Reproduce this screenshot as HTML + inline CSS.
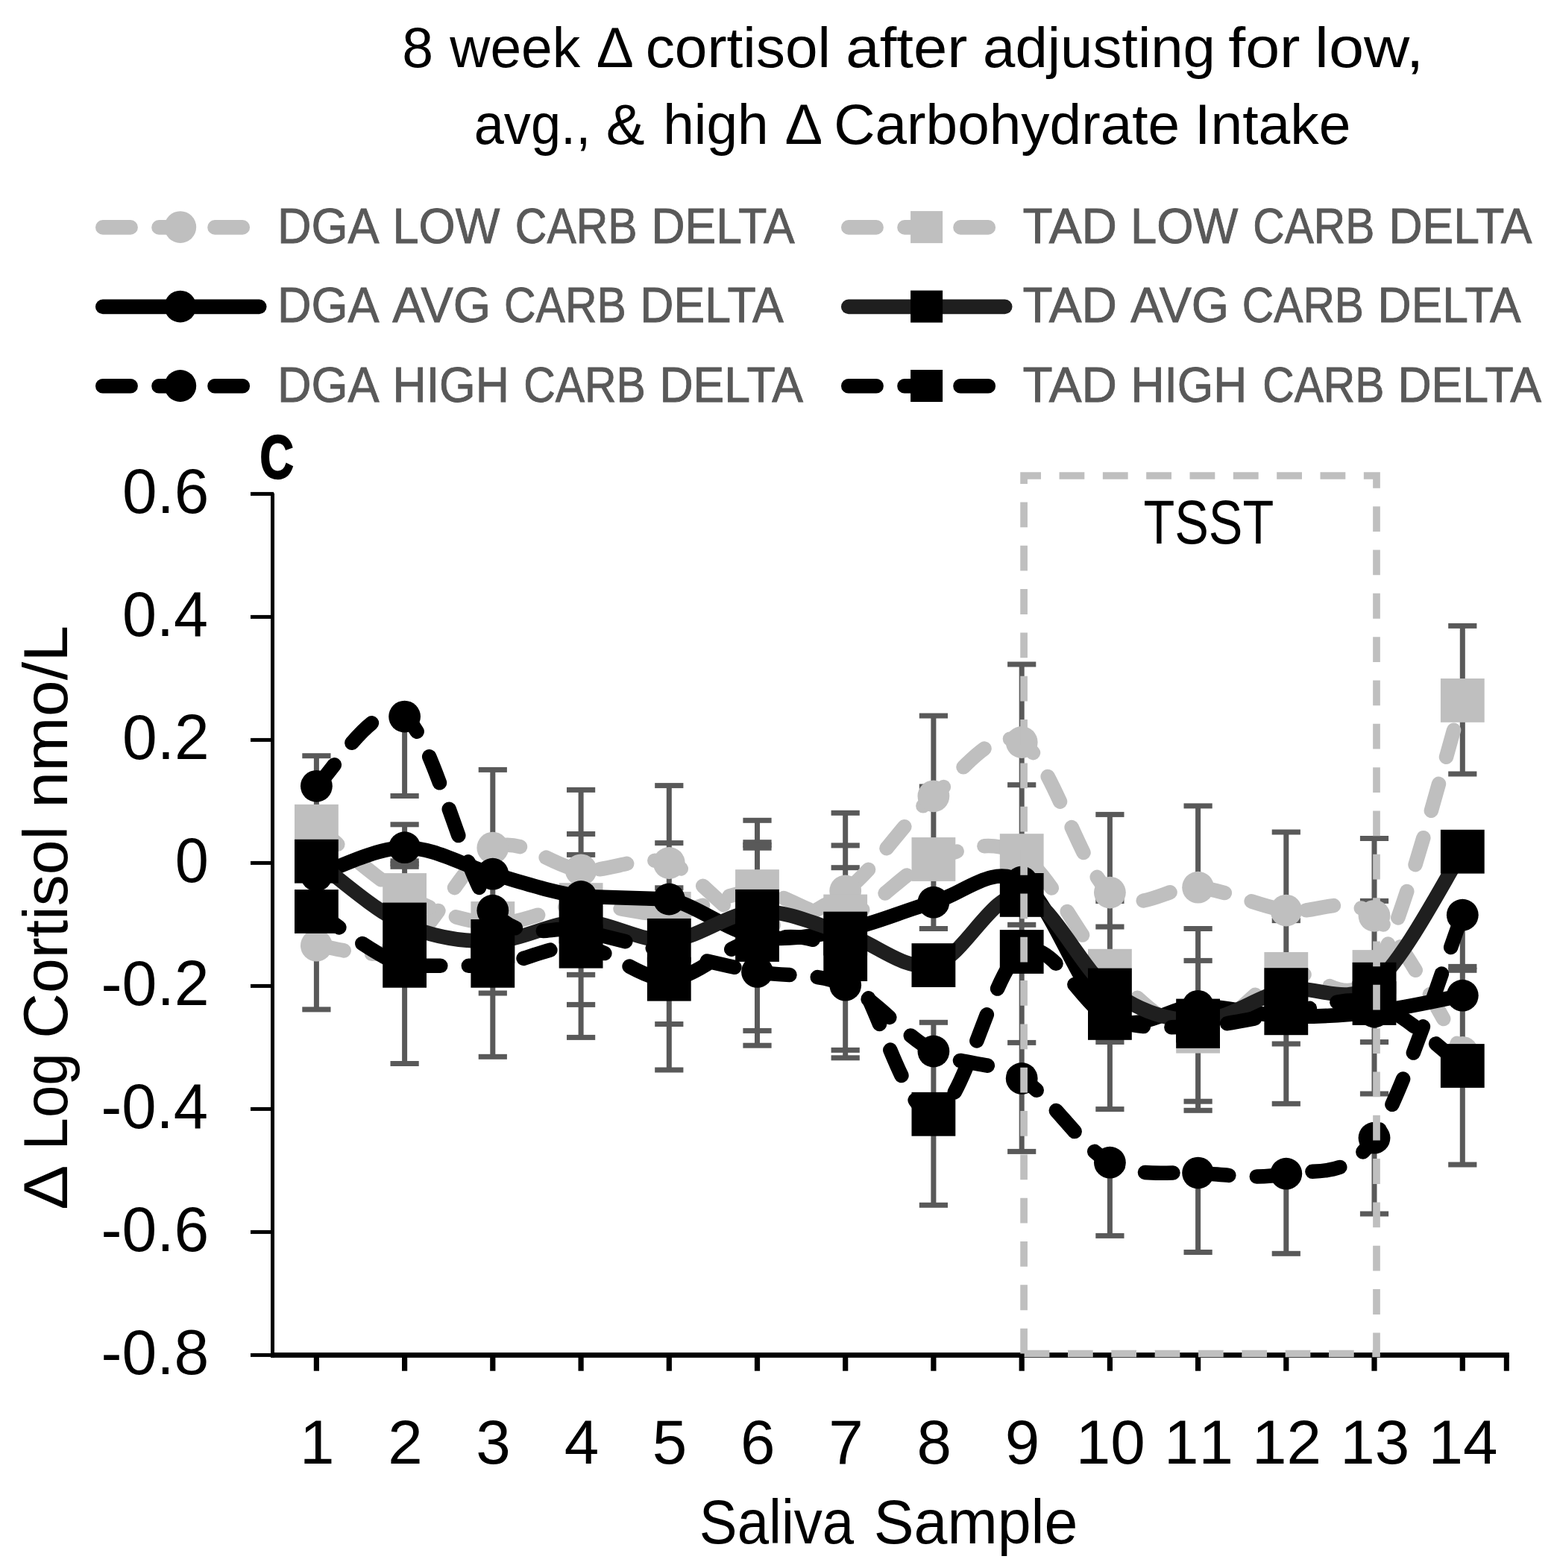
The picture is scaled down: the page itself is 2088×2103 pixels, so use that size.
<!DOCTYPE html>
<html lang="en"><head><meta charset="utf-8"><title>8 week Δ cortisol after adjusting for low, avg., &amp; high Δ Carbohydrate Intake</title>
<style>html,body{margin:0;padding:0;background:#fff}svg{display:block}text{font-family:"Liberation Sans",sans-serif}</style></head><body>
<svg width="2088" height="2103" viewBox="0 0 2088 2103">
<rect width="2088" height="2103" fill="#fff"/>
<g fill="#000">
<rect x="363" y="661.5" width="5" height="1159.4"/>
<rect x="364.5" y="1814" width="1659.3" height="6.9"/>
<rect x="336" y="659.9" width="31" height="5"/>
<rect x="336" y="824.9" width="31" height="5"/>
<rect x="336" y="989.9" width="31" height="5"/>
<rect x="336" y="1154.9" width="31" height="5"/>
<rect x="336" y="1319.9" width="31" height="5"/>
<rect x="336" y="1484.9" width="31" height="5"/>
<rect x="336" y="1649.9" width="31" height="5"/>
<rect x="336" y="1814.9" width="31" height="5"/>
<rect x="420.8" y="1817" width="7.2" height="21.7"/>
<rect x="539" y="1817" width="7.2" height="21.7"/>
<rect x="657.2" y="1817" width="7.2" height="21.7"/>
<rect x="775.5" y="1817" width="7.2" height="21.7"/>
<rect x="893.7" y="1817" width="7.2" height="21.7"/>
<rect x="1011.9" y="1817" width="7.2" height="21.7"/>
<rect x="1130.1" y="1817" width="7.2" height="21.7"/>
<rect x="1248.3" y="1817" width="7.2" height="21.7"/>
<rect x="1366.6" y="1817" width="7.2" height="21.7"/>
<rect x="1484.8" y="1817" width="7.2" height="21.7"/>
<rect x="1603" y="1817" width="7.2" height="21.7"/>
<rect x="1721.2" y="1817" width="7.2" height="21.7"/>
<rect x="1839.4" y="1817" width="7.2" height="21.7"/>
<rect x="1957.7" y="1817" width="7.2" height="21.7"/>
<rect x="2016.8" y="1817" width="7" height="21.7"/>
</g>
<g fill="#595959">
<rect x="420.9" y="1013.7" width="7" height="340.2"/>
<rect x="405.3" y="1010.2" width="38.2" height="7"/>
<rect x="405.3" y="1350.4" width="38.2" height="7"/>
<rect x="539.1" y="961" width="7" height="106.5"/>
<rect x="539.1" y="1105.8" width="7" height="320.7"/>
<rect x="523.5" y="1064" width="38.2" height="7"/>
<rect x="523.5" y="1102.3" width="38.2" height="7"/>
<rect x="523.5" y="1151.3" width="38.2" height="7"/>
<rect x="523.5" y="1155" width="38.2" height="7"/>
<rect x="523.5" y="1158.8" width="38.2" height="7"/>
<rect x="523.5" y="1423" width="38.2" height="7"/>
<rect x="657.3" y="1032.4" width="7" height="384.9"/>
<rect x="641.7" y="1028.9" width="38.2" height="7"/>
<rect x="641.7" y="1328.5" width="38.2" height="7"/>
<rect x="641.7" y="1413.8" width="38.2" height="7"/>
<rect x="775.6" y="1059.4" width="7" height="332"/>
<rect x="760" y="1055.9" width="38.2" height="7"/>
<rect x="760" y="1115" width="38.2" height="7"/>
<rect x="760" y="1142.9" width="38.2" height="7"/>
<rect x="760" y="1303.8" width="38.2" height="7"/>
<rect x="760" y="1343.9" width="38.2" height="7"/>
<rect x="760" y="1387.9" width="38.2" height="7"/>
<rect x="893.8" y="1053.6" width="7" height="381.4"/>
<rect x="878.2" y="1050.1" width="38.2" height="7"/>
<rect x="878.2" y="1127.1" width="38.2" height="7"/>
<rect x="878.2" y="1187.3" width="38.2" height="7"/>
<rect x="878.2" y="1370" width="38.2" height="7"/>
<rect x="878.2" y="1431.5" width="38.2" height="7"/>
<rect x="1012" y="1100.3" width="7" height="301.9"/>
<rect x="996.4" y="1096.8" width="38.2" height="7"/>
<rect x="996.4" y="1126.2" width="38.2" height="7"/>
<rect x="996.4" y="1129.9" width="38.2" height="7"/>
<rect x="996.4" y="1133.7" width="38.2" height="7"/>
<rect x="996.4" y="1378.9" width="38.2" height="7"/>
<rect x="996.4" y="1398.7" width="38.2" height="7"/>
<rect x="1130.2" y="1090.3" width="7" height="328.5"/>
<rect x="1114.6" y="1086.8" width="38.2" height="7"/>
<rect x="1114.6" y="1130.4" width="38.2" height="7"/>
<rect x="1114.6" y="1160.2" width="38.2" height="7"/>
<rect x="1114.6" y="1404.9" width="38.2" height="7"/>
<rect x="1114.6" y="1415.3" width="38.2" height="7"/>
<rect x="1248.4" y="960" width="7" height="285.5"/>
<rect x="1248.4" y="1371.3" width="7" height="245"/>
<rect x="1232.8" y="956.5" width="38.2" height="7"/>
<rect x="1232.8" y="1051.5" width="38.2" height="7"/>
<rect x="1232.8" y="1242" width="38.2" height="7"/>
<rect x="1232.8" y="1367.8" width="38.2" height="7"/>
<rect x="1232.8" y="1612.8" width="38.2" height="7"/>
<rect x="1366.7" y="891" width="7" height="653.4"/>
<rect x="1351.1" y="887.5" width="38.2" height="7"/>
<rect x="1351.1" y="1049.2" width="38.2" height="7"/>
<rect x="1351.1" y="1236.8" width="38.2" height="7"/>
<rect x="1351.1" y="1394.9" width="38.2" height="7"/>
<rect x="1351.1" y="1540.9" width="38.2" height="7"/>
<rect x="1484.9" y="1092.4" width="7" height="395.2"/>
<rect x="1484.9" y="1559.2" width="7" height="98.2"/>
<rect x="1469.3" y="1088.9" width="38.2" height="7"/>
<rect x="1469.3" y="1205" width="38.2" height="7"/>
<rect x="1469.3" y="1239.5" width="38.2" height="7"/>
<rect x="1469.3" y="1394" width="38.2" height="7"/>
<rect x="1469.3" y="1484.1" width="38.2" height="7"/>
<rect x="1469.3" y="1653.9" width="38.2" height="7"/>
<rect x="1603.1" y="1080.9" width="7" height="109.1"/>
<rect x="1603.1" y="1245.5" width="7" height="243.8"/>
<rect x="1603.1" y="1573" width="7" height="106.5"/>
<rect x="1587.5" y="1077.4" width="38.2" height="7"/>
<rect x="1587.5" y="1242" width="38.2" height="7"/>
<rect x="1587.5" y="1284.9" width="38.2" height="7"/>
<rect x="1587.5" y="1473.7" width="38.2" height="7"/>
<rect x="1587.5" y="1485.8" width="38.2" height="7"/>
<rect x="1587.5" y="1676" width="38.2" height="7"/>
<rect x="1721.3" y="1116" width="7" height="364.3"/>
<rect x="1721.3" y="1574" width="7" height="107.3"/>
<rect x="1705.7" y="1112.5" width="38.2" height="7"/>
<rect x="1705.7" y="1231.1" width="38.2" height="7"/>
<rect x="1705.7" y="1396.5" width="38.2" height="7"/>
<rect x="1705.7" y="1476.8" width="38.2" height="7"/>
<rect x="1705.7" y="1677.8" width="38.2" height="7"/>
<rect x="1839.5" y="1124.5" width="7" height="342.5"/>
<rect x="1839.5" y="1526" width="7" height="102"/>
<rect x="1823.9" y="1121" width="38.2" height="7"/>
<rect x="1823.9" y="1204.9" width="38.2" height="7"/>
<rect x="1823.9" y="1394.1" width="38.2" height="7"/>
<rect x="1823.9" y="1463.5" width="38.2" height="7"/>
<rect x="1823.9" y="1624.5" width="38.2" height="7"/>
<rect x="1957.8" y="839.4" width="7" height="198.6"/>
<rect x="1957.8" y="1227" width="7" height="335"/>
<rect x="1942.2" y="835.9" width="38.2" height="7"/>
<rect x="1942.2" y="1034.5" width="38.2" height="7"/>
<rect x="1942.2" y="1292.9" width="38.2" height="7"/>
<rect x="1942.2" y="1297.8" width="38.2" height="7"/>
<rect x="1942.2" y="1558.5" width="38.2" height="7"/>
</g>
<g id="DGA_LOW"><path d="M424.4,1268.2C444.1,1268.5 503.2,1291.8 542.6,1270C582,1248.2 621.4,1154.3 660.8,1137.1C700.2,1119.9 739.7,1163.4 779.1,1166.8C818.5,1170.2 857.9,1145.3 897.3,1157.5C936.7,1169.7 976.1,1233.8 1015.5,1240C1054.9,1246.2 1094.3,1223.7 1133.7,1195C1173.1,1166.3 1212.5,1101 1251.9,1067.8C1291.3,1034.5 1330.8,974 1370.2,995.5C1409.6,1017 1449,1164.6 1488.4,1197.1C1527.8,1229.5 1567.2,1186.2 1606.6,1190.2C1646,1194.2 1685.4,1214.8 1724.8,1221.1C1764.2,1227.4 1803.6,1196.6 1843,1228.3C1882.4,1260 1941.6,1380.8 1961.3,1411.3" fill="none" stroke="#BFBFBF" stroke-width="19.5" stroke-linecap="round" stroke-linejoin="round" stroke-dasharray="37.5 37.5"/>
<g fill="#BFBFBF">
<circle cx="424.4" cy="1268.2" r="21.4"/>
<circle cx="542.6" cy="1270" r="21.4"/>
<circle cx="660.8" cy="1137.1" r="21.4"/>
<circle cx="779.1" cy="1166.8" r="21.4"/>
<circle cx="897.3" cy="1157.5" r="21.4"/>
<circle cx="1015.5" cy="1240" r="21.4"/>
<circle cx="1133.7" cy="1195" r="21.4"/>
<circle cx="1251.9" cy="1067.8" r="21.4"/>
<circle cx="1370.2" cy="995.5" r="21.4"/>
<circle cx="1488.4" cy="1197.1" r="21.4"/>
<circle cx="1606.6" cy="1190.2" r="21.4"/>
<circle cx="1724.8" cy="1221.1" r="21.4"/>
<circle cx="1843" cy="1228.3" r="21.4"/>
<circle cx="1961.3" cy="1411.3" r="21.4"/>
</g></g>
<g id="TAD_LOW"><path d="M424.4,1108.3C444.1,1123.7 503.2,1178.8 542.6,1200.5C582,1222.2 621.4,1236.3 660.8,1238.5C700.2,1240.7 739.7,1215.8 779.1,1213.6C818.5,1211.4 857.9,1228.4 897.3,1225.4C936.7,1222.4 976.1,1195 1015.5,1195.6C1054.9,1196.2 1094.3,1236.2 1133.7,1229C1173.1,1221.8 1212.5,1166.1 1251.9,1152.5C1291.3,1138.9 1330.8,1122.6 1370.2,1147.6C1409.6,1172.5 1449,1262.9 1488.4,1302.2C1527.8,1341.5 1567.2,1382.5 1606.6,1383.2C1646,1383.9 1685.4,1319.7 1724.8,1306.4C1764.2,1293.1 1803.6,1364.7 1843,1303.5C1882.4,1242.3 1941.6,1000.1 1961.3,939.4" fill="none" stroke="#BFBFBF" stroke-width="19.5" stroke-linecap="round" stroke-linejoin="round" stroke-dasharray="37.5 37.5"/>
<g fill="#BFBFBF">
<rect x="395" y="1078.9" width="58.8" height="58.8"/>
<rect x="513.2" y="1171.1" width="58.8" height="58.8"/>
<rect x="631.4" y="1209.1" width="58.8" height="58.8"/>
<rect x="749.7" y="1184.2" width="58.8" height="58.8"/>
<rect x="867.9" y="1196" width="58.8" height="58.8"/>
<rect x="986.1" y="1166.2" width="58.8" height="58.8"/>
<rect x="1104.3" y="1199.6" width="58.8" height="58.8"/>
<rect x="1222.5" y="1123.1" width="58.8" height="58.8"/>
<rect x="1340.8" y="1118.2" width="58.8" height="58.8"/>
<rect x="1459" y="1272.8" width="58.8" height="58.8"/>
<rect x="1577.2" y="1353.8" width="58.8" height="58.8"/>
<rect x="1695.4" y="1277" width="58.8" height="58.8"/>
<rect x="1813.6" y="1274.1" width="58.8" height="58.8"/>
<rect x="1931.9" y="910" width="58.8" height="58.8"/>
</g></g>
<g id="DGA_AVG"><path d="M424.4,1174C444.1,1167.8 503.2,1137 542.6,1136.7C582,1136.4 621.4,1161.2 660.8,1172.2C700.2,1183.2 739.7,1196.8 779.1,1202.4C818.5,1203.6 857.9,1204.8 897.3,1206C936.7,1214.9 976.1,1249.2 1015.5,1256C1054.9,1262.8 1094.3,1254.6 1133.7,1247C1173.1,1239.4 1212.5,1220.9 1251.9,1210.2C1291.3,1199.5 1330.8,1157.7 1370.2,1183C1409.6,1208.3 1449,1334.3 1488.4,1362C1527.8,1389.7 1567.2,1349.1 1606.6,1349.3C1646,1349.5 1685.4,1361.7 1724.8,1363C1764.2,1364.3 1803.6,1361.6 1843,1357C1882.4,1352.4 1941.6,1338.8 1961.3,1335.2" fill="none" stroke="#000000" stroke-width="19.5" stroke-linecap="round" stroke-linejoin="round"/>
<g fill="#000000">
<circle cx="424.4" cy="1174" r="21.4"/>
<circle cx="542.6" cy="1136.7" r="21.4"/>
<circle cx="660.8" cy="1172.2" r="21.4"/>
<circle cx="779.1" cy="1202.4" r="21.4"/>
<circle cx="897.3" cy="1206" r="21.4"/>
<circle cx="1015.5" cy="1256" r="21.4"/>
<circle cx="1133.7" cy="1247" r="21.4"/>
<circle cx="1251.9" cy="1210.2" r="21.4"/>
<circle cx="1370.2" cy="1183" r="21.4"/>
<circle cx="1488.4" cy="1362" r="21.4"/>
<circle cx="1606.6" cy="1349.3" r="21.4"/>
<circle cx="1724.8" cy="1363" r="21.4"/>
<circle cx="1843" cy="1357" r="21.4"/>
<circle cx="1961.3" cy="1335.2" r="21.4"/>
</g></g>
<g id="TAD_AVG"><path d="M424.4,1155.2C444.1,1169.3 503.2,1222.1 542.6,1240C582,1257.9 621.4,1263.1 660.8,1262.4C700.2,1261.7 739.7,1236.2 779.1,1236C818.5,1235.8 857.9,1263.6 897.3,1261.3C936.7,1259 976.1,1223.8 1015.5,1222.3C1054.9,1220.8 1094.3,1240 1133.7,1252.1C1173.1,1264.1 1212.5,1303.2 1251.9,1294.6C1291.3,1286 1330.8,1194.8 1370.2,1200.4C1409.6,1206 1449,1299.9 1488.4,1328C1527.8,1356.1 1567.2,1369.1 1606.6,1369C1646,1368.9 1685.4,1335.7 1724.8,1327.6C1764.2,1319.5 1803.6,1351.1 1843,1320.2C1882.4,1289.3 1941.6,1171.9 1961.3,1142.2" fill="none" stroke="#1F1F1F" stroke-width="19.5" stroke-linecap="round" stroke-linejoin="round"/>
<g fill="#000000">
<rect x="395" y="1125.8" width="58.8" height="58.8"/>
<rect x="513.2" y="1210.6" width="58.8" height="58.8"/>
<rect x="631.4" y="1233" width="58.8" height="58.8"/>
<rect x="749.7" y="1206.6" width="58.8" height="58.8"/>
<rect x="867.9" y="1231.9" width="58.8" height="58.8"/>
<rect x="986.1" y="1192.9" width="58.8" height="58.8"/>
<rect x="1104.3" y="1222.7" width="58.8" height="58.8"/>
<rect x="1222.5" y="1265.2" width="58.8" height="58.8"/>
<rect x="1340.8" y="1171" width="58.8" height="58.8"/>
<rect x="1459" y="1298.6" width="58.8" height="58.8"/>
<rect x="1577.2" y="1339.6" width="58.8" height="58.8"/>
<rect x="1695.4" y="1298.2" width="58.8" height="58.8"/>
<rect x="1813.6" y="1290.8" width="58.8" height="58.8"/>
<rect x="1931.9" y="1112.8" width="58.8" height="58.8"/>
</g></g>
<g id="DGA_HIGH"><path d="M424.4,1054.3C444.1,1038.8 503.2,933.3 542.6,961.1C582,988.9 621.4,1173.4 660.8,1221.2C700.2,1269 739.7,1238.7 779.1,1248C818.5,1257.3 857.9,1267.8 897.3,1277C936.7,1286.2 976.1,1296 1015.5,1303.4C1054.9,1310.8 1094.3,1303.4 1133.7,1321.2C1173.1,1339 1212.5,1389.1 1251.9,1410C1291.3,1430.9 1330.8,1421.5 1370.2,1446.4C1409.6,1471.3 1449,1538.1 1488.4,1559.2C1527.8,1580.3 1567.2,1570.6 1606.6,1573.1C1646,1575.6 1685.4,1582 1724.8,1574.2C1764.2,1566.4 1803.6,1584 1843,1526.2C1882.4,1468.4 1941.6,1277 1961.3,1227.2" fill="none" stroke="#000000" stroke-width="19.5" stroke-linecap="round" stroke-linejoin="round" stroke-dasharray="37.5 37.5"/>
<g fill="#000000">
<circle cx="424.4" cy="1054.3" r="21.4"/>
<circle cx="542.6" cy="961.1" r="21.4"/>
<circle cx="660.8" cy="1221.2" r="21.4"/>
<circle cx="779.1" cy="1248" r="21.4"/>
<circle cx="897.3" cy="1277" r="21.4"/>
<circle cx="1015.5" cy="1303.4" r="21.4"/>
<circle cx="1133.7" cy="1321.2" r="21.4"/>
<circle cx="1251.9" cy="1410" r="21.4"/>
<circle cx="1370.2" cy="1446.4" r="21.4"/>
<circle cx="1488.4" cy="1559.2" r="21.4"/>
<circle cx="1606.6" cy="1573.1" r="21.4"/>
<circle cx="1724.8" cy="1574.2" r="21.4"/>
<circle cx="1843" cy="1526.2" r="21.4"/>
<circle cx="1961.3" cy="1227.2" r="21.4"/>
</g></g>
<g id="TAD_HIGH"><path d="M424.4,1222.5C444.1,1234.6 503.2,1283.2 542.6,1295.3C582,1295.3 621.4,1295.3 660.8,1295.3C700.2,1291 739.7,1266.2 779.1,1269.2C818.5,1272.2 857.9,1314.7 897.3,1313.2C936.7,1311.8 976.1,1264.9 1015.5,1260.5C1054.9,1256.1 1094.3,1247.6 1133.7,1286.6C1173.1,1325.6 1212.5,1496 1251.9,1494.3C1291.3,1492.6 1330.8,1298 1370.2,1276.5C1409.6,1255 1449,1348.7 1488.4,1365.4C1527.8,1382.1 1567.2,1377.6 1606.6,1376.5C1646,1375.4 1685.4,1364 1724.8,1358.8C1764.2,1353.6 1803.6,1333.7 1843,1345.5C1882.4,1357.3 1941.6,1415.5 1961.3,1429.5" fill="none" stroke="#000000" stroke-width="19.5" stroke-linecap="round" stroke-linejoin="round" stroke-dasharray="37.5 37.5"/>
<g fill="#000000">
<rect x="395" y="1193.1" width="58.8" height="58.8"/>
<rect x="513.2" y="1265.9" width="58.8" height="58.8"/>
<rect x="631.4" y="1265.9" width="58.8" height="58.8"/>
<rect x="749.7" y="1239.8" width="58.8" height="58.8"/>
<rect x="867.9" y="1283.8" width="58.8" height="58.8"/>
<rect x="986.1" y="1231.1" width="58.8" height="58.8"/>
<rect x="1104.3" y="1257.2" width="58.8" height="58.8"/>
<rect x="1222.5" y="1464.9" width="58.8" height="58.8"/>
<rect x="1340.8" y="1247.1" width="58.8" height="58.8"/>
<rect x="1459" y="1336" width="58.8" height="58.8"/>
<rect x="1577.2" y="1347.1" width="58.8" height="58.8"/>
<rect x="1695.4" y="1329.4" width="58.8" height="58.8"/>
<rect x="1813.6" y="1316.1" width="58.8" height="58.8"/>
<rect x="1931.9" y="1400.1" width="58.8" height="58.8"/>
</g></g>
<path d="M1373.1,1815.5V638H1846V1815.5H1373.1" fill="none" stroke="#BFBFBF" stroke-width="9.7" stroke-dasharray="33.8 24.53" stroke-linejoin="miter"/>
<path d="M137.8,304.9h37.3M213,304.9h37.3M288,304.9h37.3" fill="none" stroke="#BFBFBF" stroke-width="19.6" stroke-linecap="round"/>
<circle cx="241.8" cy="304.6" r="21.4" fill="#BFBFBF"/>
<path d="M137.8,411.4h209.9" fill="none" stroke="#000000" stroke-width="19.6" stroke-linecap="round"/>
<circle cx="241.8" cy="411.1" r="21.4" fill="#000000"/>
<path d="M137.8,517.8h37.3M213,517.8h37.3M288,517.8h37.3" fill="none" stroke="#000000" stroke-width="19.6" stroke-linecap="round"/>
<circle cx="241.8" cy="517.5" r="21.4" fill="#000000"/>
<path d="M1137.8,304.9h37.3M1213,304.9h37.3M1288,304.9h37.3" fill="none" stroke="#BFBFBF" stroke-width="19.6" stroke-linecap="round"/>
<rect x="1221.1" y="283.1" width="43" height="43" fill="#BFBFBF"/>
<path d="M1137.8,411.4h209.9" fill="none" stroke="#1F1F1F" stroke-width="19.6" stroke-linecap="round"/>
<rect x="1221.1" y="389.6" width="43" height="43" fill="#000000"/>
<path d="M1137.8,517.8h37.3M1213,517.8h37.3M1288,517.8h37.3" fill="none" stroke="#000000" stroke-width="19.6" stroke-linecap="round"/>
<rect x="1221.1" y="496" width="43" height="43" fill="#000000"/>
<text y="90.2" font-size="76.5" fill="#000"><tspan x="539.19" textLength="41.80" lengthAdjust="spacingAndGlyphs">8</tspan> <tspan x="603.27" textLength="174.95" lengthAdjust="spacingAndGlyphs">week</tspan> <tspan x="799.78" textLength="45.94" lengthAdjust="spacingAndGlyphs">Δ</tspan> <tspan x="865.67" textLength="248.21" lengthAdjust="spacingAndGlyphs">cortisol</tspan> <tspan x="1134.34" textLength="163.12" lengthAdjust="spacingAndGlyphs">after</tspan> <tspan x="1318.08" textLength="311.88" lengthAdjust="spacingAndGlyphs">adjusting</tspan> <tspan x="1647.27" textLength="96.30" lengthAdjust="spacingAndGlyphs">for</tspan> <tspan x="1763.09" textLength="146.16" lengthAdjust="spacingAndGlyphs">low,</tspan></text>
<text y="192.9" font-size="76.5" fill="#000"><tspan x="635.71" textLength="156.53" lengthAdjust="spacingAndGlyphs">avg.,</tspan> <tspan x="812.68" textLength="51.85" lengthAdjust="spacingAndGlyphs">&amp;</tspan> <tspan x="889.24" textLength="141.44" lengthAdjust="spacingAndGlyphs">high</tspan> <tspan x="1052.46" textLength="46.49" lengthAdjust="spacingAndGlyphs">Δ</tspan> <tspan x="1118.17" textLength="463.98" lengthAdjust="spacingAndGlyphs">Carbohydrate</tspan> <tspan x="1602.08" textLength="209.49" lengthAdjust="spacingAndGlyphs">Intake</tspan></text>
<text y="326.3" font-size="67" fill="#595959" stroke="#595959" stroke-width="0.9"><tspan x="371.98" textLength="133.23" lengthAdjust="spacingAndGlyphs">DGA</tspan> <tspan x="526.45" textLength="143.88" lengthAdjust="spacingAndGlyphs">LOW</tspan> <tspan x="690.85" textLength="163.81" lengthAdjust="spacingAndGlyphs">CARB</tspan> <tspan x="873.40" textLength="192.21" lengthAdjust="spacingAndGlyphs">DELTA</tspan></text>
<text y="432.4" font-size="67" fill="#595959" stroke="#595959" stroke-width="0.9"><tspan x="371.98" textLength="133.23" lengthAdjust="spacingAndGlyphs">DGA</tspan> <tspan x="526.20" textLength="131.92" lengthAdjust="spacingAndGlyphs">AVG</tspan> <tspan x="676.05" textLength="163.71" lengthAdjust="spacingAndGlyphs">CARB</tspan> <tspan x="858.29" textLength="192.52" lengthAdjust="spacingAndGlyphs">DELTA</tspan></text>
<text y="538.5" font-size="67" fill="#595959" stroke="#595959" stroke-width="0.9"><tspan x="371.98" textLength="133.23" lengthAdjust="spacingAndGlyphs">DGA</tspan> <tspan x="526.49" textLength="156.54" lengthAdjust="spacingAndGlyphs">HIGH</tspan> <tspan x="702.15" textLength="163.71" lengthAdjust="spacingAndGlyphs">CARB</tspan> <tspan x="884.39" textLength="192.52" lengthAdjust="spacingAndGlyphs">DELTA</tspan></text>
<text y="326.3" font-size="67" fill="#595959" stroke="#595959" stroke-width="0.9"><tspan x="1371.59" textLength="126.41" lengthAdjust="spacingAndGlyphs">TAD</tspan> <tspan x="1515.92" textLength="144.50" lengthAdjust="spacingAndGlyphs">LOW</tspan> <tspan x="1680.27" textLength="163.09" lengthAdjust="spacingAndGlyphs">CARB</tspan> <tspan x="1862.51" textLength="191.91" lengthAdjust="spacingAndGlyphs">DELTA</tspan></text>
<text y="432.4" font-size="67" fill="#595959" stroke="#595959" stroke-width="0.9"><tspan x="1371.59" textLength="126.41" lengthAdjust="spacingAndGlyphs">TAD</tspan> <tspan x="1516.30" textLength="131.92" lengthAdjust="spacingAndGlyphs">AVG</tspan> <tspan x="1665.86" textLength="163.19" lengthAdjust="spacingAndGlyphs">CARB</tspan> <tspan x="1847.60" textLength="192.01" lengthAdjust="spacingAndGlyphs">DELTA</tspan></text>
<text y="538.5" font-size="67" fill="#595959" stroke="#595959" stroke-width="0.9"><tspan x="1371.59" textLength="126.41" lengthAdjust="spacingAndGlyphs">TAD</tspan> <tspan x="1516.51" textLength="155.79" lengthAdjust="spacingAndGlyphs">HIGH</tspan> <tspan x="1693.26" textLength="163.19" lengthAdjust="spacingAndGlyphs">CARB</tspan> <tspan x="1874.39" textLength="192.52" lengthAdjust="spacingAndGlyphs">DELTA</tspan></text>
<text y="687.6" font-size="84.5" fill="#000"><tspan x="163.97" textLength="116.27" lengthAdjust="spacingAndGlyphs">0.6</tspan></text>
<text y="852.6" font-size="84.5" fill="#000"><tspan x="164.01" textLength="114.96" lengthAdjust="spacingAndGlyphs">0.4</tspan></text>
<text y="1017.6" font-size="84.5" fill="#000"><tspan x="163.96" textLength="116.71" lengthAdjust="spacingAndGlyphs">0.2</tspan></text>
<text y="1182.6" font-size="84.5" fill="#000"><tspan x="234.66" textLength="45.07" lengthAdjust="spacingAndGlyphs">0</tspan></text>
<text y="1347.6" font-size="84.5" fill="#000"><tspan x="135.53" textLength="145.16" lengthAdjust="spacingAndGlyphs">-0.2</tspan></text>
<text y="1512.6" font-size="84.5" fill="#000"><tspan x="135.57" textLength="143.41" lengthAdjust="spacingAndGlyphs">-0.4</tspan></text>
<text y="1677.6" font-size="84.5" fill="#000"><tspan x="135.54" textLength="144.72" lengthAdjust="spacingAndGlyphs">-0.6</tspan></text>
<text y="1842.6" font-size="84.5" fill="#000"><tspan x="135.54" textLength="144.72" lengthAdjust="spacingAndGlyphs">-0.8</tspan></text>
<text y="2069.8" font-size="84" fill="#000"><tspan x="937.87" textLength="207.33" lengthAdjust="spacingAndGlyphs">Saliva</tspan> <tspan x="1171.67" textLength="273.76" lengthAdjust="spacingAndGlyphs">Sample</tspan></text>
<text y="728.5" font-size="84" fill="#000"><tspan x="1533.43" textLength="174.79" lengthAdjust="spacingAndGlyphs">TSST</tspan></text>
<text y="640.8" font-size="82" fill="#000" font-weight="bold" stroke="#000" stroke-width="2.4"><tspan x="348.50" textLength="45.20" lengthAdjust="spacingAndGlyphs">C</tspan></text>
<text transform="translate(90,1620.8) rotate(-90)" y="0" font-size="84" fill="#000"><tspan x="-2.07" textLength="55.28" lengthAdjust="spacingAndGlyphs">Δ</tspan> <tspan x="78.36" textLength="130.22" lengthAdjust="spacingAndGlyphs">Log</tspan> <tspan x="228.00" textLength="285.03" lengthAdjust="spacingAndGlyphs">Cortisol</tspan> <tspan x="537.07" textLength="244.98" lengthAdjust="spacingAndGlyphs">nmo/L</tspan></text>
<g font-size="83.6" fill="#000" text-anchor="middle" style="font-kerning:none">
<text x="425.2" y="1962.9" textLength="46.49" lengthAdjust="spacingAndGlyphs">1</text>
<text x="543.4" y="1962.9" textLength="46.49" lengthAdjust="spacingAndGlyphs">2</text>
<text x="661.6" y="1962.9" textLength="46.49" lengthAdjust="spacingAndGlyphs">3</text>
<text x="779.9" y="1962.9" textLength="46.49" lengthAdjust="spacingAndGlyphs">4</text>
<text x="898.1" y="1962.9" textLength="46.49" lengthAdjust="spacingAndGlyphs">5</text>
<text x="1016.3" y="1962.9" textLength="46.49" lengthAdjust="spacingAndGlyphs">6</text>
<text x="1134.5" y="1962.9" textLength="46.49" lengthAdjust="spacingAndGlyphs">7</text>
<text x="1252.7" y="1962.9" textLength="46.49" lengthAdjust="spacingAndGlyphs">8</text>
<text x="1371" y="1962.9" textLength="46.49" lengthAdjust="spacingAndGlyphs">9</text>
<text x="1489.2" y="1962.9" textLength="92.99" lengthAdjust="spacingAndGlyphs">10</text>
<text x="1607.4" y="1962.9" textLength="92.99" lengthAdjust="spacingAndGlyphs">11</text>
<text x="1725.6" y="1962.9" textLength="92.99" lengthAdjust="spacingAndGlyphs">12</text>
<text x="1843.8" y="1962.9" textLength="92.99" lengthAdjust="spacingAndGlyphs">13</text>
<text x="1962.1" y="1962.9" textLength="92.99" lengthAdjust="spacingAndGlyphs">14</text>
</g>
</svg></body></html>
